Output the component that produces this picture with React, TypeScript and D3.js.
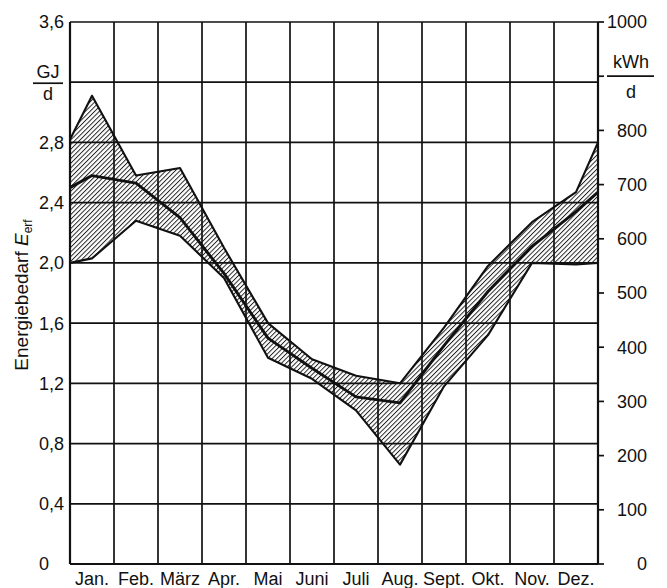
import React from 'react';
import * as d3 from 'd3';

// month positions: 0 = start of Jan, 0.5 = mid Jan, ..., 12 = end of Dec
const positions = [0, 0.5, 1.5, 2.5, 3.5, 4.5, 5.5, 6.5, 7.5, 8.5, 9.5, 10.5, 11.5, 12];
const upperGJ = [2.82, 3.11, 2.58, 2.63, 2.1, 1.6, 1.36, 1.25, 1.2, 1.57, 1.98, 2.27, 2.47, 2.8];
const meanGJ = [2.5, 2.58, 2.53, 2.3, 1.93, 1.5, 1.3, 1.11, 1.07, 1.45, 1.81, 2.11, 2.34, 2.47];
const lowerGJ = [2.0, 2.03, 2.28, 2.18, 1.9, 1.37, 1.23, 1.02, 0.66, 1.18, 1.52, 2.0, 1.99, 2.0];

const months = ['Jan.', 'Feb.', 'März', 'Apr.', 'Mai', 'Juni', 'Juli', 'Aug.', 'Sept.', 'Okt.', 'Nov.', 'Dez.'];
const gjTicks = [0, 0.4, 0.8, 1.2, 1.6, 2.0, 2.4, 2.8, 3.2, 3.6];
const gjLabels = ['0', '0,4', '0,8', '1,2', '1,6', '2,0', '2,4', '2,8', '', '3,6'];
const kwhTicks = [0, 100, 200, 300, 400, 500, 600, 700, 800, 900, 1000];
const kwhLabels = ['0', '100', '200', '300', '400', '500', '600', '700', '800', '', '1000'];

const W = 667;
const H = 588;
const FONT = '"Liberation Sans", Arial, sans-serif';

export default function App() {
  const x = d3.scaleLinear().domain([0, 12]).range([70, 598]);
  const y = d3.scaleLinear().domain([0, 3.6]).range([564, 22]);
  const yk = d3.scaleLinear().domain([0, 1000]).range([564, 22]);

  const rows = positions.map((p, i) => ({ p, up: upperGJ[i], mid: meanGJ[i], lo: lowerGJ[i] }));

  const band = d3.area<any>()
    .x((d) => x(d.p))
    .y0((d) => y(Math.min(d.lo, d.mid, d.up)))
    .y1((d) => y(Math.max(d.lo, d.mid, d.up)));
  const line = (key: string) => d3.line<any>().x((d) => x(d.p)).y((d) => y(d[key]))(rows) || '';

  return (
    <svg width={W} height={H} style={{ position: 'absolute', left: 0, top: 0, background: '#fff' }}>
      <defs>
        <pattern id="hatch" width={3.3} height={8} patternUnits="userSpaceOnUse" patternTransform="rotate(45)">
          <line x1={0.5} y1={0} x2={0.5} y2={8} stroke="#111" strokeWidth={0.9} />
        </pattern>
      </defs>
      <rect width={W} height={H} fill="#fff" />

      {/* grid */}
      {d3.range(0, 13).map((m) => (
        <line key={'v' + m} x1={x(m)} x2={x(m)} y1={y(3.6)} y2={y(0)} stroke="#111"
          strokeWidth={m === 0 || m === 12 ? 2.2 : 1.7} />
      ))}
      {gjTicks.map((t) => (
        <line key={'h' + t} x1={x(0)} x2={x(12)} y1={y(t)} y2={y(t)} stroke="#111"
          strokeWidth={t === 0 ? 2.2 : 1.7} />
      ))}

      {/* band */}
      <path d={band(rows) || ''} fill="url(#hatch)" stroke="none" />
      <path d={line('up')} fill="none" stroke="#111" strokeWidth={2.1} strokeLinejoin="round" />
      <path d={line('lo')} fill="none" stroke="#111" strokeWidth={2.1} strokeLinejoin="round" />
      <path d={line('mid')} fill="none" stroke="#111" strokeWidth={2.9} strokeLinejoin="round" />

      {/* left axis labels */}
      {gjTicks.map((t, i) => (
        <text key={'l' + t} x={39} y={y(t)} dy="0.36em" fontFamily={FONT} fontSize={18} fill="#111">
          {gjLabels[i]}
        </text>
      ))}
      <text x={48} y={78} textAnchor="middle" fontFamily={FONT} fontSize={18} fill="#111">GJ</text>
      <line x1={33} x2={63} y1={y(3.2) + 1} y2={y(3.2) + 1} stroke="#111" strokeWidth={1.7} />
      <text x={48} y={100} textAnchor="middle" fontFamily={FONT} fontSize={18} fill="#111">d</text>

      {/* right axis */}
      {kwhTicks.map((t, i) => (
        <g key={'r' + t}>
          <line x1={x(12)} x2={x(12) + 6} y1={yk(t)} y2={yk(t)} stroke="#111" strokeWidth={1.7} />
          <text x={647} y={yk(t)} dy="0.36em" textAnchor="end" fontFamily={FONT} fontSize={18} fill="#111">
            {kwhLabels[i]}
          </text>
        </g>
      ))}
      <text x={631} y={68} textAnchor="middle" fontFamily={FONT} fontSize={18} fill="#111">kWh</text>
      <line x1={607} x2={654} y1={yk(900)} y2={yk(900)} stroke="#111" strokeWidth={1.7} />
      <text x={631} y={98} textAnchor="middle" fontFamily={FONT} fontSize={18} fill="#111">d</text>

      {/* months */}
      {months.map((m, i) => (
        <text key={m} x={x(i + 0.5)} y={585} textAnchor="middle" fontFamily={FONT} fontSize={18} fill="#111">
          {m}
        </text>
      ))}

      {/* y title */}
      <text transform="translate(28,295) rotate(-90)" textAnchor="middle" fontFamily={FONT} fontSize={19} fill="#111">
        Energiebedarf <tspan fontStyle="italic">E</tspan>
        <tspan fontSize={12} dy={4}>erf</tspan>
      </text>
    </svg>
  );
}
